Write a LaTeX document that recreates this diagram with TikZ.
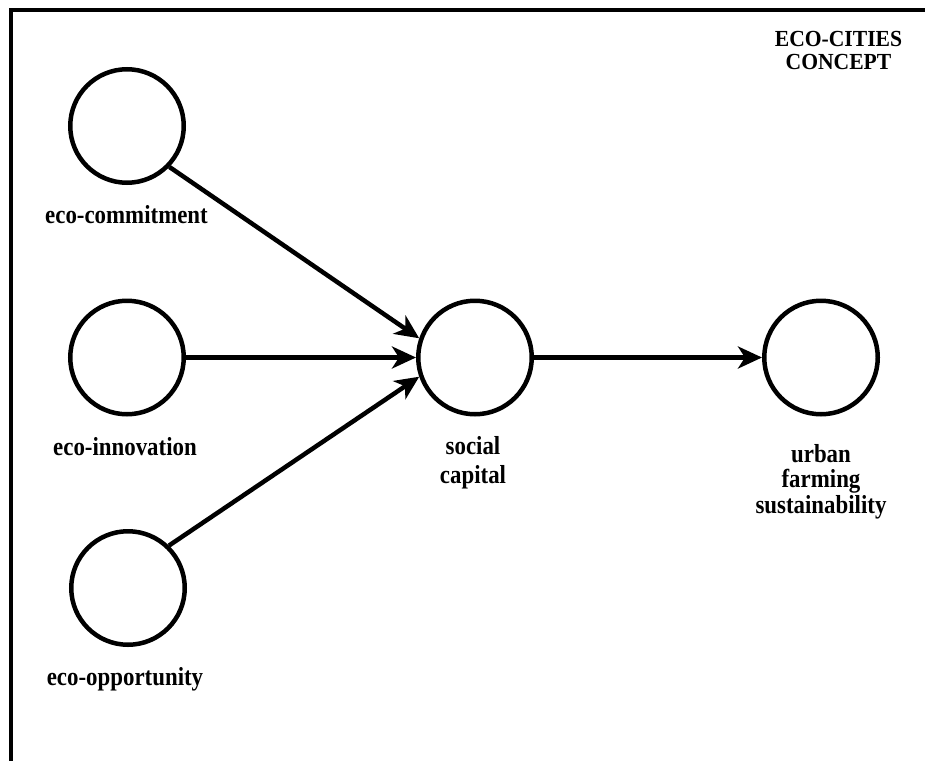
\documentclass[tikz,border=0pt]{standalone}
\usepackage{fontspec}
\setmainfont{Liberation Serif}[FakeStretch=0.88]
\newfontfamily\titlefont{Liberation Serif}[FakeStretch=0.94]
\usetikzlibrary{arrows.meta}
\begin{document}
\begin{tikzpicture}[x=1pt,y=-1pt,
  var/.style={circle,draw,line width=4.5pt,minimum size=113.5pt,inner sep=0pt},
  lbl/.style={font=\bfseries\fontsize{26}{26}\selectfont,align=center,inner sep=0pt},
  conn/.style={line width=4.5pt,-{Stealth[length=24pt,width=22pt,inset=7pt]}}]
\useasboundingbox (0,0) rectangle (925,760);
\draw[line width=4.5pt] (11,762) -- (11,10) -- (927,10);
\node[var] (ecom) at (127,126) {};
\node[var] (einn) at (127,357.5) {};
\node[var] (eopp) at (128,588) {};
\node[var] (soc) at (475,357.5) {};
\node[var] (urb) at (821,357.5) {};
\node[lbl,anchor=base] (lcom) at (126.5,223) {eco-commitment};
\node[lbl,anchor=base] (linn) at (125,455) {eco-innovation};
\node[lbl,anchor=base] (lopp) at (125,685) {eco-opportunity};
\node[lbl,anchor=base,font=\bfseries\fontsize{26}{29}\selectfont] (lsoc) at (473,483) {social\\capital};
\node[lbl,anchor=base,font=\bfseries\fontsize{26}{25.5}\selectfont] (lurb) at (821,513) {urban\\farming\\sustainability};
\node[lbl,anchor=base,font=\titlefont\bfseries\fontsize{23}{23}\selectfont] (ltitle) at (838.5,70) {ECO-CITIES\\CONCEPT};
\draw[conn] (ecom.-44) -- (soc.161);
\draw[conn] (einn.east) -- (soc.west);
\draw[conn] (eopp.46) -- (soc.199.5);
\draw[conn] (soc.east) -- (urb.west);
\end{tikzpicture}
\end{document}
